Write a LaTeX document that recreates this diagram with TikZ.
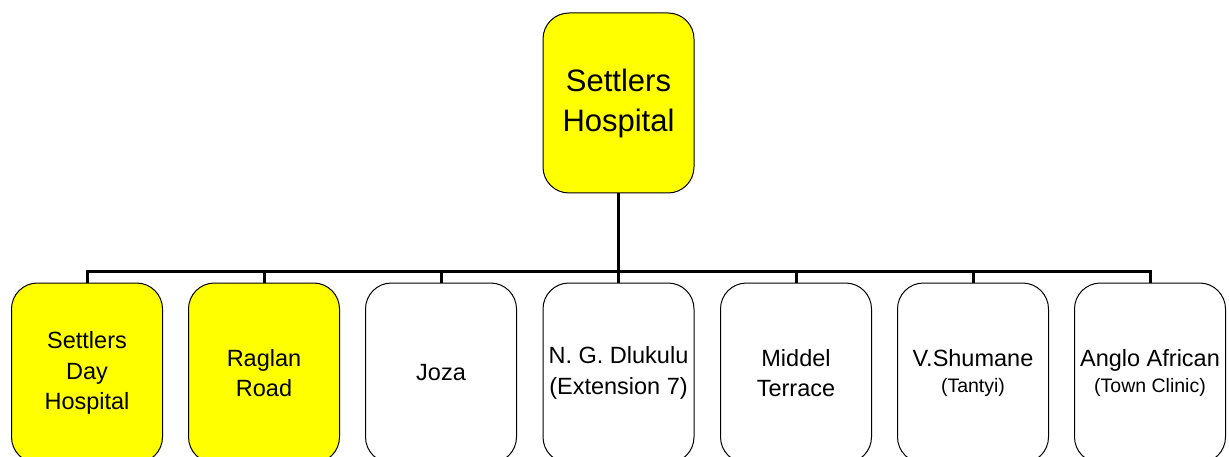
\documentclass[tikz,border=0pt]{standalone}
\usepackage{fontspec}
\setmainfont{Liberation Sans}
\begin{document}
\begin{tikzpicture}[x=1pt,y=-1pt,
  box/.style={draw=black, line width=1pt, rounded corners=26pt, minimum width=151pt, minimum height=180pt, inner sep=0pt, align=center, font=\fontsize{23.5}{30.5}\selectfont},
  ybox/.style={box, fill=yellow},
  wbox/.style={box, fill=white},
  topbox/.style={box, fill=yellow, font=\fontsize{31}{40}\selectfont},
  conn/.style={draw=black, line width=3pt}]
\useasboundingbox (0,0) rectangle (1229,457);
\definecolor{yellow}{RGB}{255,255,0}
\node[topbox] (top) at (618.5,103) {Settlers\\Hospital};
\coordinate (bar) at (618.5,271);
\node[ybox] (b1) at (87,373) {Settlers\\Day\\Hospital};
\node[ybox] (b2) at (264,373) {Raglan\\Road};
\node[wbox] (b3) at (441,373) {Joza};
\node[wbox] (b4) at (618.5,373) {N. G. Dlukulu\\(Extension 7)};
\node[wbox] (b5) at (796,373) {Middel\\Terrace};
\node[wbox] (b6) at (973,373) {V.Shumane\\[-4pt]{\fontsize{19.5}{24}\selectfont (Tantyi)}};
\node[wbox] (b7) at (1150,373) {Anglo African\\[-4pt]{\fontsize{19.5}{24}\selectfont (Town Clinic)}};
\draw[conn] (top.south) -- (bar);
\draw[conn] (b1.north) |- (bar) -| (b7.north);
\foreach \n in {b2,b3,b4,b5,b6} {\draw[conn] (\n.north) -- (\n.north |- bar);}
\end{tikzpicture}
\end{document}
